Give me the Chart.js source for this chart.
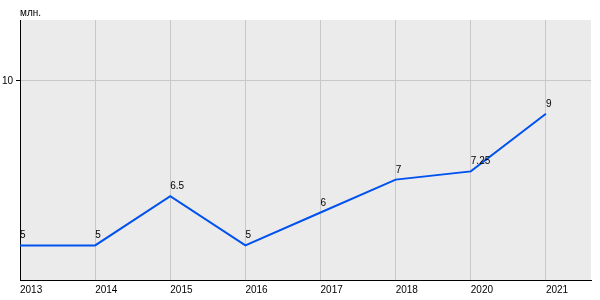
<!DOCTYPE html>
<html lang="ru">
<head>
  <meta charset="UTF-8" />
  <title>млн.</title>
  <script src="https://cdn.jsdelivr.net/npm/chart.js"></script>
  <style>
    body { margin: 0; background: #fff; }
    canvas { display: block; }
  </style>
</head>
<body>
  <canvas id="chart" width="600" height="300"></canvas>
  <script>
    // data
    const years = ["2013", "2014", "2015", "2016", "2017", "2018", "2020", "2021"];
    const values = [5, 5, 6.5, 5, 6, 7, 7.25, 9];
    const valueLabels = ["5", "5", "6.5", "5", "6", "7", "7.25", "9"];
    const yTicks = [10];
    const unitLabel = "млн.";

    const FONT = "'Liberation Sans', Arial, sans-serif";

    // grey plot background + unit label
    const backdrop = {
      id: "backdrop",
      beforeDraw(chart) {
        const { ctx, chartArea: a } = chart;
        ctx.save();
        ctx.fillStyle = "#ebebeb";
        ctx.fillRect(a.left, a.top, a.right - a.left, a.bottom - a.top);
        ctx.fillStyle = "#000";
        ctx.font = "10px " + FONT;
        ctx.textAlign = "left";
        ctx.textBaseline = "alphabetic";
        ctx.fillText(unitLabel, a.left, 16);
        ctx.restore();
      }
    };

    // value labels above each point, left aligned
    const pointLabels = {
      id: "pointLabels",
      afterDatasetsDraw(chart) {
        const { ctx } = chart;
        const meta = chart.getDatasetMeta(0);
        ctx.save();
        ctx.fillStyle = "#000";
        ctx.font = "10px " + FONT;
        ctx.textAlign = "left";
        ctx.textBaseline = "alphabetic";
        meta.data.forEach((pt, i) => {
          ctx.fillText(valueLabels[i], pt.x, pt.y - 7);
        });
        ctx.restore();
      }
    };

    const ctx = document.getElementById("chart").getContext("2d");
    new Chart(ctx, {
      type: "line",
      data: {
        datasets: [{
          data: values.map((v, i) => ({ x: i, y: v })),
          borderColor: "#0052ee",
          borderWidth: 2,
          pointRadius: 0,
          tension: 0,
          fill: false
        }]
      },
      options: {
        responsive: false,
        animation: false,
        layout: { padding: { top: 20, right: 9, left: 0, bottom: 0 } },
        plugins: { legend: { display: false }, tooltip: { enabled: false } },
        scales: {
          x: {
            type: "linear",
            min: 0,
            max: 7.6,
            afterBuildTicks: axis => {
              axis.ticks = years.map((_, i) => ({ value: i }));
            },
            afterFit: scale => { scale.height = 20; },
            ticks: {
              align: "start",
              padding: 4,
              maxRotation: 0,
              autoSkip: false,
              color: "#000",
              font: { size: 10, family: FONT },
              callback: v => years[v] ?? ""
            },
            grid: { color: "#c8c8c8", drawTicks: false, lineWidth: 1 },
            border: { color: "#000", width: 1 }
          },
          y: {
            min: 3.95,
            max: 11.85,
            afterBuildTicks: axis => {
              axis.ticks = yTicks.map(v => ({ value: v }));
            },
            afterFit: scale => { scale.width = 20; },
            ticks: {
              padding: 3,
              color: "#000",
              font: { size: 10, family: FONT }
            },
            grid: { color: "#c8c8c8", tickColor: "#000", tickLength: 4, lineWidth: 1 },
            border: { color: "#000", width: 1 }
          }
        }
      },
      plugins: [backdrop, pointLabels]
    });
  </script>
</body>
</html>
